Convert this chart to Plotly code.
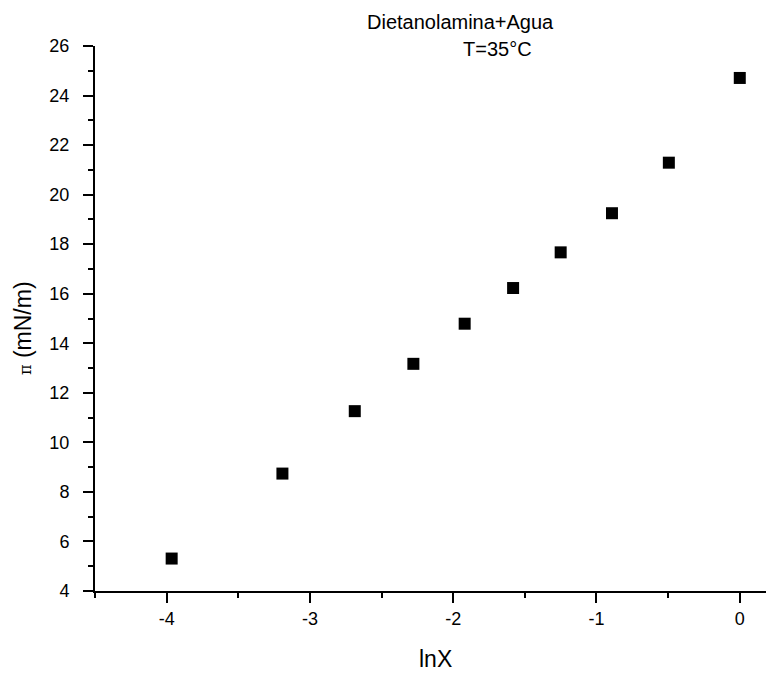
import plotly.graph_objects as go

lnX = [-3.965, -3.192, -2.687, -2.278, -1.920, -1.582, -1.250, -0.892, -0.495, 0.0]
pi_vals = [5.31, 8.74, 11.26, 13.17, 14.79, 16.23, 17.67, 19.25, 21.29, 24.71]

x_tickvals = [-4, -3, -2, -1, 0]
x_ticktext = ["-4", "-3", "-2", "-1", "0"]
y_tickvals = [4, 6, 8, 10, 12, 14, 16, 18, 20, 22, 24, 26]
y_ticktext = ["4", "6", "8", "10", "12", "14", "16", "18", "20", "22", "24", "26"]

title_line1 = "Dietanolamina+Agua"
title_line2 = "T=35°C"
x_title = "lnX"
y_title = '<span style="font-family:\'DejaVu Serif\', serif;font-size:16px">π</span> (mN/m)'

FONT = "Arial, 'Liberation Sans', sans-serif"

fig = go.Figure()
fig.add_trace(go.Scatter(
    x=lnX, y=pi_vals, mode="markers",
    marker=dict(symbol="square", size=12, color="black"),
    showlegend=False,
))

fig.update_layout(
    width=766, height=677,
    margin=dict(l=95, r=0, t=46, b=86),
    paper_bgcolor="white", plot_bgcolor="white",
    font=dict(family=FONT, color="black", size=18),
)

fig.update_xaxes(
    range=[-4.5, 0.183], showgrid=False, zeroline=False,
    showline=True, linewidth=2, linecolor="black",
    ticks="outside", ticklen=10, tickwidth=2, tickcolor="black",
    tickvals=x_tickvals, ticktext=x_ticktext,
    minor=dict(dtick=0.5, tick0=0, ticklen=5, tickwidth=2, tickcolor="black", ticks="outside"),
    tickfont=dict(size=18, family=FONT),
    ticklabelstandoff=0,
)
fig.update_yaxes(
    range=[4, 26], showgrid=False, zeroline=False,
    showline=True, linewidth=2, linecolor="black",
    ticks="outside", ticklen=10, tickwidth=2, tickcolor="black",
    tickvals=y_tickvals, ticktext=y_ticktext,
    minor=dict(dtick=1, tick0=0, ticklen=5, tickwidth=2, tickcolor="black", ticks="outside"),
    tickfont=dict(size=18, family=FONT),
    ticklabelstandoff=10,
)

fig.add_annotation(text=title_line1, xref="paper", yref="paper",
                   x=(460 - 95) / 671, y=1 + (46 - 22) / 545, showarrow=False,
                   font=dict(size=20, family=FONT), xanchor="center", yanchor="middle")
fig.add_annotation(text=title_line2, xref="paper", yref="paper",
                   x=(497 - 95) / 671, y=1 + (46 - 49) / 545, showarrow=False,
                   font=dict(size=20, family=FONT), xanchor="center", yanchor="middle")
fig.add_annotation(text=x_title, xref="paper", yref="paper",
                   x=(435 - 95) / 671, y=-(659 - 591) / 545, showarrow=False,
                   font=dict(size=23, family=FONT), xanchor="center", yanchor="middle")
fig.add_annotation(text=y_title, xref="paper", yref="paper",
                   x=-(95 - 23) / 671, y=(591 - 328) / 545, showarrow=False,
                   textangle=-90,
                   font=dict(size=23, family=FONT), xanchor="center", yanchor="middle")

fig.write_html("out.html", config={"displayModeBar": False},
               post_script="document.body.style.margin='0';document.body.style.padding='0';")
